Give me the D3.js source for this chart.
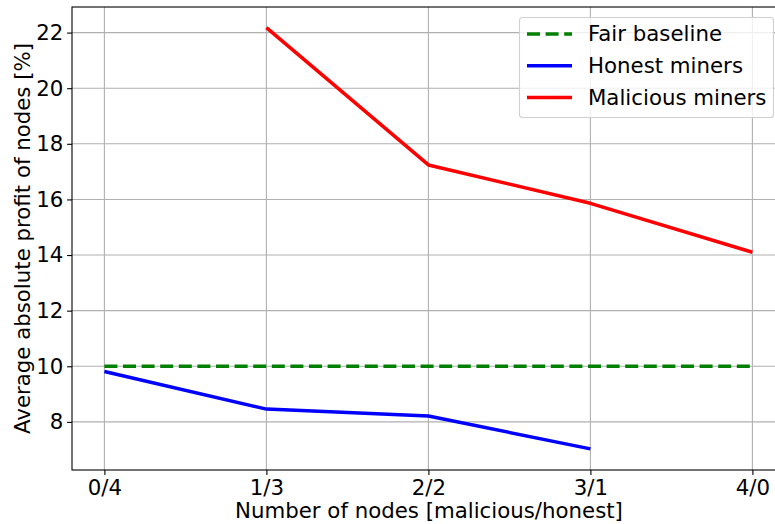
<!DOCTYPE html>
<html>
<head>
<meta charset="utf-8">
<script src="https://cdn.jsdelivr.net/npm/d3@7"></script>
<style>
  html, body { margin: 0; padding: 0; background: #fff; overflow: hidden; }
  svg { display: block; font-family: "DejaVu Sans", sans-serif; }
</style>
</head>
<body>
<svg id="chart" width="775" height="524"></svg>
<script>
// Node compositions (malicious/honest) along the x axis
const categories = ["0/4", "1/3", "2/2", "3/1", "4/0"];
// Average absolute profit per node [%]
const fairBaseline = [10, 10, 10, 10, 10];
const honestMiners = [9.81, 8.46, 8.21, 7.03, null];
const maliciousMiners = [null, 22.18, 17.24, 15.86, 14.10];
const yTicks = [8, 10, 12, 14, 16, 18, 20, 22];

const series = [
  { name: "Fair baseline", values: fairBaseline, color: "#008000", dash: "13,5.6" },
  { name: "Honest miners", values: honestMiners, color: "#0000ff", dash: null },
  { name: "Malicious miners", values: maliciousMiners, color: "#ff0000", dash: null }
];

const fontSize = "21.3px";
const svg = d3.select("#chart");
const plotLeft = 72, plotTop = 7, plotBottom = 470;
const x = d3.scaleLinear().domain([-0.2, 4.2]).range([plotLeft, plotLeft + 4.4 * 162]);
const y = d3.scaleLinear().domain([6.27, 22.92]).range([plotBottom, plotTop]);
const plotRight = x(4.2);

svg.append("clipPath").attr("id", "plot")
  .append("rect").attr("x", plotLeft).attr("y", plotTop)
  .attr("width", plotRight - plotLeft).attr("height", plotBottom - plotTop);

// Grid lines
const grid = svg.append("g");
grid.selectAll("line.gx").data(categories).join("line")
  .attr("class", "gx")
  .attr("x1", (d, i) => x(i)).attr("x2", (d, i) => x(i))
  .attr("y1", plotTop).attr("y2", plotBottom)
  .attr("stroke", "#b0b0b0").attr("stroke-width", 1.1);
grid.selectAll("line.gy").data(yTicks).join("line")
  .attr("class", "gy")
  .attr("x1", plotLeft).attr("x2", plotRight)
  .attr("y1", d => y(d)).attr("y2", d => y(d))
  .attr("stroke", "#b0b0b0").attr("stroke-width", 1.1);

// Series lines
const line = d3.line()
  .defined(d => d.v != null)
  .x(d => x(d.i)).y(d => y(d.v));
const lines = svg.append("g").attr("clip-path", "url(#plot)");
series.forEach(s => {
  lines.append("path")
    .datum(s.values.map((v, i) => ({ i, v })))
    .attr("d", line)
    .attr("fill", "none")
    .attr("stroke", s.color)
    .attr("stroke-width", 3.5)
    .attr("stroke-linecap", "butt")
    .attr("stroke-linejoin", "round")
    .attr("stroke-dasharray", s.dash);
});

// Axes
const xAxis = d3.axisBottom(x)
  .tickValues(d3.range(categories.length))
  .tickFormat(i => categories[i])
  .tickSizeInner(4.9).tickSizeOuter(0).tickPadding(4.9);
const yAxis = d3.axisLeft(y)
  .tickValues(yTicks)
  .tickSizeInner(4.9).tickSizeOuter(0).tickPadding(3.8);

const gx = svg.append("g").attr("transform", `translate(0,${plotBottom})`).call(xAxis);
const gy = svg.append("g").attr("transform", `translate(${plotLeft},0)`).call(yAxis);
[gx, gy].forEach(g => {
  g.select(".domain").remove();
  g.selectAll(".tick line").attr("stroke", "#000").attr("stroke-width", 1.1);
  g.selectAll(".tick text").attr("fill", "#000").style("font-size", fontSize)
    .style("font-family", "'DejaVu Sans', sans-serif");
});

// Spines
svg.append("rect")
  .attr("x", plotLeft).attr("y", plotTop)
  .attr("width", plotRight - plotLeft).attr("height", plotBottom - plotTop)
  .attr("fill", "none").attr("stroke", "#000").attr("stroke-width", 1.1);

// Axis titles
svg.append("text")
  .attr("x", 429).attr("y", 518)
  .attr("text-anchor", "middle")
  .style("font-size", fontSize)
  .text("Number of nodes [malicious/honest]");
svg.append("text")
  .attr("transform", `translate(30,${(plotTop + plotBottom) / 2}) rotate(-90)`)
  .attr("text-anchor", "middle")
  .style("font-size", fontSize)
  .text("Average absolute profit of nodes [%]");

// Legend
const legend = svg.append("g");
legend.append("rect")
  .attr("x", 519.5).attr("y", 17.5).attr("width", 254).attr("height", 100)
  .attr("rx", 3).attr("ry", 3)
  .attr("fill", "#fff").attr("fill-opacity", 0.8)
  .attr("stroke", "#d0d0d0").attr("stroke-width", 1.1);
series.forEach((s, k) => {
  const cy = 34 + k * 31.7;
  legend.append("line")
    .attr("x1", 527).attr("x2", 572).attr("y1", cy).attr("y2", cy)
    .attr("stroke", s.color).attr("stroke-width", 3.5)
    .attr("stroke-dasharray", s.dash);
  legend.append("text")
    .attr("x", 588).attr("y", cy).attr("dy", "0.35em")
    .style("font-size", fontSize)
    .text(s.name);
});
</script>
</body>
</html>
